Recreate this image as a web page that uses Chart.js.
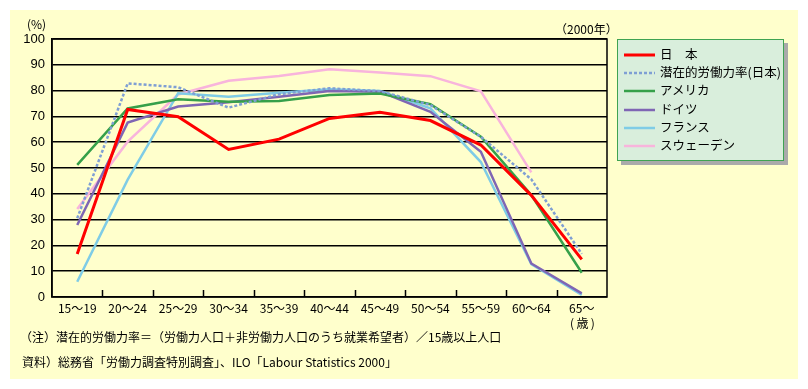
<!DOCTYPE html>
<html><head><meta charset="utf-8">
<script src="https://cdn.jsdelivr.net/npm/chart.js@4/dist/chart.umd.min.js"></script>
<style>
html,body{margin:0;padding:0;background:#fff;}
#wrap{position:relative;width:808px;height:389px;font-family:"Noto Sans CJK JP","Liberation Sans",sans-serif;color:#000;}
#panel{position:absolute;left:10px;top:10px;width:788px;height:369px;background:#ffffcc;}
#cv{position:absolute;left:0;top:0;}
.t{position:absolute;white-space:nowrap;font-size:12px;line-height:14px;}
#legend{position:absolute;left:617px;top:39px;width:165px;height:120px;background:#d9eedc;border:1px solid #3fa352;box-shadow:4px 4px 0 #aaaaaa;}
.li{position:absolute;left:6px;height:14px;font-size:12.5px;line-height:14px;white-space:nowrap;}
.li svg{position:absolute;left:0;top:1px;}
.li span{position:absolute;left:36px;top:-1px;}
</style></head>
<body>
<div id="wrap">
<div id="panel"></div>
<canvas id="cv" width="808" height="389"></canvas>
<div class="t" style="left:27px;top:17px;">(%)</div>
<div class="t" style="left:555px;top:22px;">（2000年）</div>
<div class="t" style="left:570px;top:316px;">(&thinsp;歳&thinsp;)</div>
<div class="t" style="left:20px;top:330px;">（注）潜在的労働力率＝（労働力人口＋非労働力人口のうち就業希望者）／15歳以上人口</div>
<div class="t" style="left:22px;top:355px;">資料）総務省「労働力調査特別調査」、ILO「Labour Statistics 2000」</div>
<div id="legend"></div>
</div>
<script>
const categories = ["15〜19","20〜24","25〜29","30〜34","35〜39","40〜44","45〜49","50〜54","55〜59","60〜64","65〜"];
const seriesNames = ["日　本","潜在的労働力率(日本)","アメリカ","ドイツ","フランス","スウェーデン"];
const japan     = [16.7, 72.7, 69.9, 57.2, 61.2, 69.2, 71.6, 68.4, 58.9, 39.4, 14.6];
const potential = [30.5, 82.8, 81.3, 73.4, 78.6, 80.9, 79.8, 74.4, 62.1, 45.6, 16.7];
const usa       = [51.2, 73.1, 76.6, 75.7, 76.0, 78.3, 78.9, 74.7, 62.1, 39.5, 9.4];
const germany   = [27.9, 67.6, 73.8, 75.5, 77.6, 79.8, 79.6, 71.8, 56.3, 13.0, 1.4];
const france    = [5.9, 45.5, 79.0, 77.6, 79.2, 80.5, 79.8, 73.1, 52.3, 12.7, 0.8];
const sweden    = [34.1, 60.2, 78.5, 83.8, 85.7, 88.3, 87.0, 85.6, 79.7, 48.3, null];
const yTicks    = [0,10,20,30,40,50,60,70,80,90,100];

const colors = ["#ff0000","#7f9fd4","#36a04a","#7f66b4","#7fcce6","#f8b4dc"];
const widths = [3,2.5,2.5,2.5,2.5,2.5];
const dashes = [[],[3,2],[],[],[],[]];
const values = [japan,potential,usa,germany,france,sweden];

const datasets = values.map((v,i)=>({
  label: seriesNames[i], data: v, borderColor: colors[i], backgroundColor: colors[i],
  borderWidth: widths[i], borderDash: dashes[i], pointRadius: 0, tension: 0, fill:false,
  spanGaps:false, borderCapStyle:'butt', borderJoinStyle:'miter'
}));

const frame = {
  id:'frame',
  afterDraw(chart){
    const {ctx, chartArea:a} = chart;
    ctx.save();
    ctx.strokeStyle = '#000'; ctx.lineWidth = 1.5;
    ctx.strokeRect(a.left, a.top, a.right-a.left, a.bottom-a.top);
    const n = categories.length, w = (a.right-a.left)/n;
    ctx.beginPath();
    for(let i=1;i<n;i++){
      const px = Math.round(a.left + i*w)+0.5;
      ctx.moveTo(px, a.bottom); ctx.lineTo(px, a.bottom-7);
    }
    ctx.stroke();
    ctx.restore();
  }
};

new Chart(document.getElementById('cv'), {
  type:'line',
  data:{labels:categories, datasets},
  options:{
    responsive:false, animation:false, devicePixelRatio:1,
    layout:{padding:{left:10,right:201,top:39,bottom:52}},
    plugins:{legend:{display:false}, tooltip:{enabled:false}},
    scales:{
      x:{ type:'category', offset:true,
        grid:{display:false}, border:{display:false},
        ticks:{color:'#000', font:{family:'"Noto Sans CJK JP"', size:12, lineHeight:1}, padding:-3, maxRotation:0, autoSkip:false},
        afterFit(s){ s.height = 40; }
      },
      y:{ min:0, max:100,
        afterBuildTicks(s){ s.ticks = yTicks.map(v=>({value:v})); },
        grid:{color:'#000', lineWidth:1.5, drawTicks:false},
        border:{display:true, color:'#000', width:1.5},
        ticks:{color:'#000', font:{family:'"Liberation Sans"', size:13}, padding:7},
        afterFit(s){ s.width = 42; }
      }
    }
  },
  plugins:[frame]
});

const lg = document.getElementById('legend');
const tops = [8,26,44,63,81,99];
seriesNames.forEach((name,i)=>{
  const d = document.createElement('div');
  d.className='li'; d.style.top = tops[i]+'px';
  const dash = dashes[i].length ? ` stroke-dasharray="${dashes[i].join(' ')}"` : '';
  d.innerHTML = `<svg width="31" height="12"><line x1="0" y1="6" x2="31" y2="6" stroke="${colors[i]}" stroke-width="${widths[i]}"${dash}/></svg><span>${name}</span>`;
  lg.appendChild(d);
});
</script>
</body></html>
